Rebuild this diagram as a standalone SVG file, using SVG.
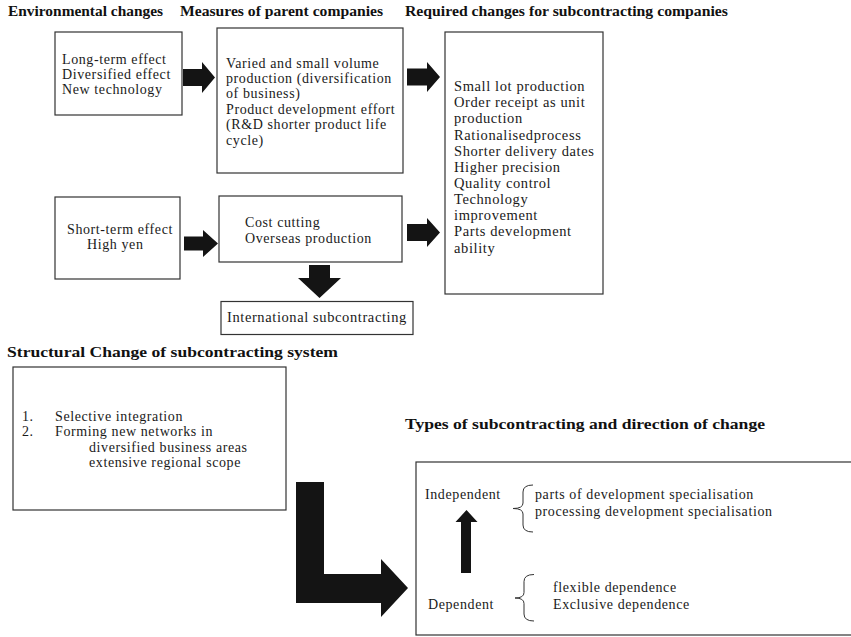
<svg xmlns="http://www.w3.org/2000/svg" width="851" height="637" viewBox="0 0 851 637">
  <style>
    .box { fill: #fff; stroke: #333; stroke-width: 1.2; }
    .txt { font-family: "Liberation Serif", "Times New Roman", serif; font-size: 14px; letter-spacing: 0.6px; fill: #1a1a1a; }
    .big { font-size: 14.5px; }
    .hd { font-family: "Liberation Serif", "Times New Roman", serif; font-size: 14px; font-weight: bold; fill: #111; }
    .hd2 { font-family: "Liberation Serif", "Times New Roman", serif; font-size: 15.5px; font-weight: bold; fill: #111; }
    .arrow { fill: #141414; stroke: none; }
    .brace { fill: none; stroke: #333; stroke-width: 1; }
  </style>
  <rect width="851" height="637" fill="#fff"/>

  <!-- column headings -->
  <g id="headings">
    <text class="hd" x="8" y="16" textLength="155" lengthAdjust="spacingAndGlyphs">Environmental changes</text>
    <text class="hd" x="180" y="16" textLength="203" lengthAdjust="spacingAndGlyphs">Measures of parent companies</text>
    <text class="hd" x="405" y="16" textLength="323" lengthAdjust="spacingAndGlyphs">Required changes for subcontracting companies</text>
    <text class="hd2" x="7" y="356.5" textLength="331" lengthAdjust="spacingAndGlyphs">Structural Change of subcontracting system</text>
    <text class="hd2" x="405" y="428.5" textLength="360" lengthAdjust="spacingAndGlyphs">Types of subcontracting and direction of change</text>
  </g>

  <g id="long-term">
    <rect class="box" x="55" y="32" width="127" height="83"/>
    <text class="txt" x="62" y="64">Long-term effect</text>
    <text class="txt" x="62" y="79">Diversified effect</text>
    <text class="txt" x="62" y="94">New technology</text>
  </g>

  <g id="varied-production">
    <rect class="box" x="217" y="28" width="186" height="145"/>
    <text class="txt" x="226" y="67.5">Varied and small volume</text>
    <text class="txt" x="226" y="83">production (diversification</text>
    <text class="txt" x="226" y="98.3">of business)</text>
    <text class="txt" x="226" y="113.7">Product development effort</text>
    <text class="txt" x="226" y="129">(R&amp;D shorter product life</text>
    <text class="txt" x="226" y="144.5">cycle)</text>
  </g>

  <g id="required-changes">
    <rect class="box" x="445" y="32" width="158" height="262"/>
    <text class="txt big" x="454" y="91">Small lot production</text>
    <text class="txt big" x="454" y="107">Order receipt as unit</text>
    <text class="txt big" x="454" y="123">production</text>
    <text class="txt big" x="454" y="139.5">Rationalisedprocess</text>
    <text class="txt big" x="454" y="155.5">Shorter delivery dates</text>
    <text class="txt big" x="454" y="171.5">Higher precision</text>
    <text class="txt big" x="454" y="187.5">Quality control</text>
    <text class="txt big" x="454" y="204">Technology</text>
    <text class="txt big" x="454" y="220">improvement</text>
    <text class="txt big" x="454" y="236">Parts development</text>
    <text class="txt big" x="454" y="252.5">ability</text>
  </g>

  <g id="short-term">
    <rect class="box" x="55" y="197" width="125" height="82"/>
    <text class="txt" x="67" y="234">Short-term effect</text>
    <text class="txt" x="87" y="249">High yen</text>
  </g>

  <g id="cost-cutting">
    <rect class="box" x="219" y="196" width="183" height="66"/>
    <text class="txt" x="245" y="227">Cost cutting</text>
    <text class="txt" x="245" y="243">Overseas production</text>
  </g>

  <g id="international">
    <rect class="box" x="221" y="301.5" width="192" height="33"/>
    <text class="txt big" x="227" y="321.5">International subcontracting</text>
  </g>

  <g id="structural-change">
    <rect class="box" x="13" y="367" width="273" height="143"/>
    <text class="txt" x="22" y="421">1.</text>
    <text class="txt" x="55" y="421">Selective integration</text>
    <text class="txt" x="22" y="436">2.</text>
    <text class="txt" x="55" y="436">Forming new networks in</text>
    <text class="txt" x="89" y="451.5">diversified business areas</text>
    <text class="txt" x="89" y="467">extensive regional scope</text>
  </g>

  <g id="subcontracting-types">
    <rect class="box" x="416" y="462" width="450" height="173"/>
    <text class="txt" x="425" y="499">Independent</text>
    <text class="txt" x="428" y="609">Dependent</text>
    <text class="txt" x="535" y="499">parts of development specialisation</text>
    <text class="txt" x="535" y="515.5">processing development specialisation</text>
    <text class="txt" x="553" y="592">flexible dependence</text>
    <text class="txt" x="553" y="609">Exclusive dependence</text>
    <path class="brace" d="M533,485 Q523,485 523,492 V503 Q523,508.5 513,508.5 Q523,508.5 523,514 V525 Q523,532 533,532"/>
    <path class="brace" d="M534,574.5 Q524,574.5 524,581.5 V592.5 Q524,598 515,598 Q524,598 524,603.5 V614 Q524,621 534,621"/>
    <path class="arrow" d="M466.5,510 L477.5,522 H471 V573 H461 V522 H455.5 Z"/>
  </g>

  <!-- connectors -->
  <g id="connectors">
    <path class="arrow" d="M183,69 H202 V62 L215,77.5 L202,93 V86 H183 Z"/>
    <path class="arrow" d="M407,68.5 H427 V62 L440,77 L427,92 V85.5 H407 Z"/>
    <path class="arrow" d="M184,236.5 H203 V230 L218,243.5 L203,257 V250.5 H184 Z"/>
    <path class="arrow" d="M407,224 H427 V218 L440,232.5 L427,247 V241 H407 Z"/>
    <path class="arrow" d="M309,265 H330 V278 H341 L319.5,298 L298,278 H309 Z"/>
    <path class="arrow" d="M296,482 H324 V574 H381 V559 L408,588 L381,617 V603 H296 Z"/>
  </g>
</svg>
